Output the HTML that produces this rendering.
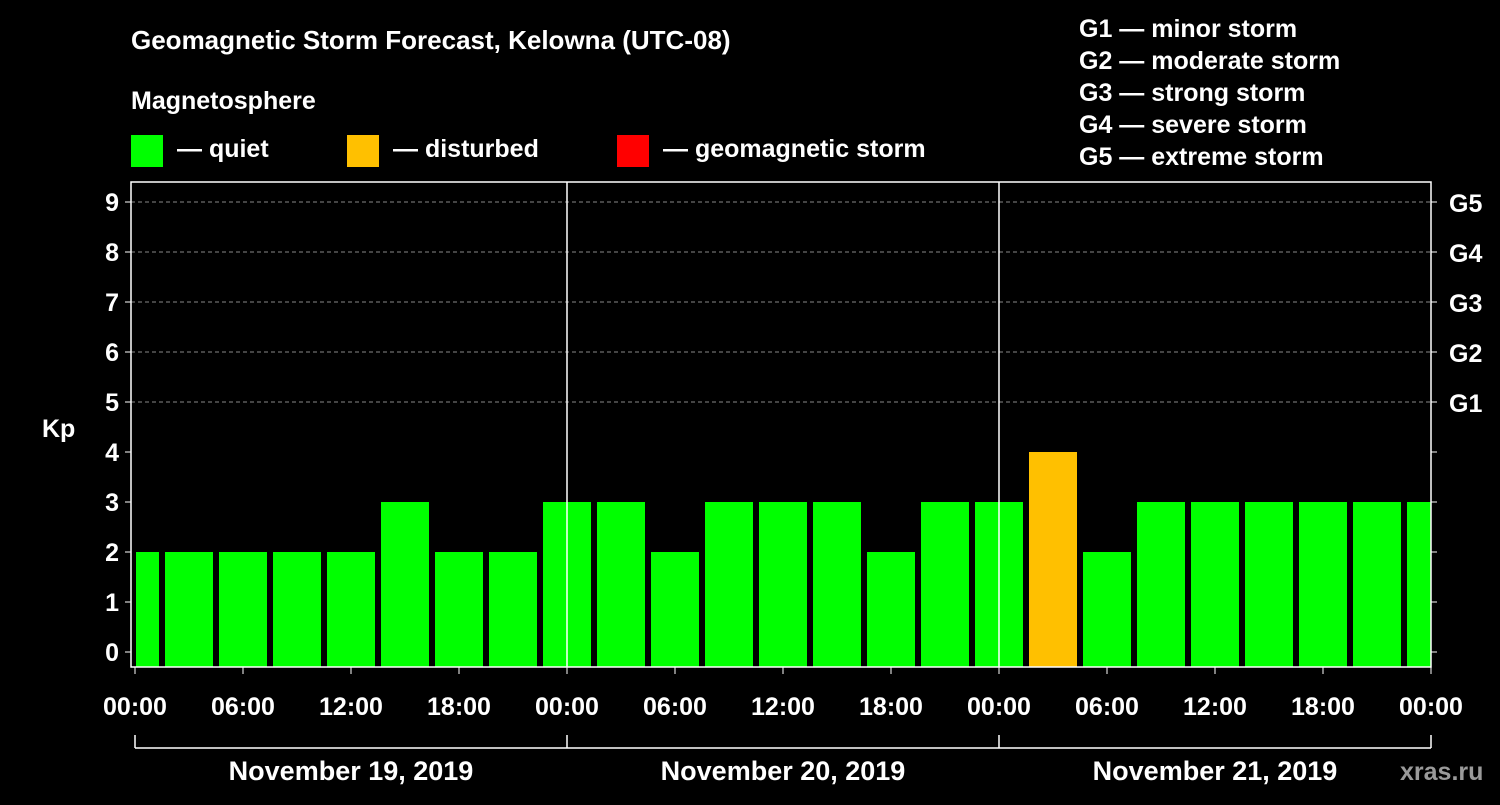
<!DOCTYPE html>
<html><head><meta charset="utf-8"><style>
body{margin:0;background:#000;}
svg text{font-family:"Liberation Sans",Arial,sans-serif;font-weight:bold;fill:#fff;}
</style></head><body>
<svg width="1500" height="800" xmlns="http://www.w3.org/2000/svg">
<rect width="1500" height="800" fill="#000"/>
<text x="131" y="49" font-size="26">Geomagnetic Storm Forecast, Kelowna (UTC-08)</text>
<text x="131" y="109" font-size="25">Magnetosphere</text>
<g>
<rect x="131" y="135" width="32" height="32" fill="#00ff00"/>
<text x="177" y="157" font-size="25">— quiet</text>
<rect x="347" y="135" width="32" height="32" fill="#ffc000"/>
<text x="393" y="157" font-size="25">— disturbed</text>
<rect x="617" y="135" width="32" height="32" fill="#ff0000"/>
<text x="663" y="157" font-size="25">— geomagnetic storm</text>
</g>
<g font-size="25">
<text x="1079" y="37">G1 — minor storm</text>
<text x="1079" y="69">G2 — moderate storm</text>
<text x="1079" y="101">G3 — strong storm</text>
<text x="1079" y="133">G4 — severe storm</text>
<text x="1079" y="165">G5 — extreme storm</text>
</g>
<g id="plot"></g>
<text x="1400" y="780" font-size="25" fill="#888" style="fill:#9a9a9a">xras.ru</text>
</svg>
<script>
const kpValues=[2,2,2,2,2,3,2,2,3,3,2,3,3,3,2,3,3,4,2,3,3,3,3,3,3];
const barStartHour=-1.5;
const yTicks=[0,1,2,3,4,5,6,7,8,9];
const gLabels=["G1","G2","G3","G4","G5"];
const xTickLabels=["00:00","06:00","12:00","18:00","00:00","06:00","12:00","18:00","00:00","06:00","12:00","18:00","00:00"];
const dayLabels=["November 19, 2019","November 20, 2019","November 21, 2019"];
const NS="http://www.w3.org/2000/svg";
const L=131,R=1431,T=182,B=667,X0=135,HPX=18;
const xs=h=>X0+h*HPX;
const ys=v=>652-v*50;
const g=document.getElementById('plot');
function mk(tag,a){const e=document.createElementNS(NS,tag);for(const k in a)e.setAttribute(k,a[k]);g.appendChild(e);return e;}
// grid
for(let v=5;v<=9;v++){const e=mk('line',{x1:L,x2:R,y1:ys(v),y2:ys(v),stroke:'#888','stroke-dasharray':'4,3','stroke-width':1});

}
// bars
kpValues.forEach((v,i)=>{let x1=xs(barStartHour+i*3)+3,x2=xs(barStartHour+(i+1)*3)-3;x1=Math.max(x1,L+5);x2=Math.min(x2,R);
const col=v>=5?'#ff0000':(v>=4?'#ffc000':'#00ff00');
const r=mk('rect',{x:x1,y:ys(v),width:x2-x1,height:B-ys(v),fill:col});

});
// frame
const fr=mk('rect',{x:L,y:T,width:R-L,height:B-T,fill:'none',stroke:'#fff','stroke-width':1.5});


[24,48].forEach(h=>{const e=mk('line',{x1:xs(h),x2:xs(h),y1:T,y2:B,stroke:'#fff','stroke-width':1.5});

});
// y ticks
yTicks.forEach(v=>{const y=ys(v);
mk('line',{x1:L-6,x2:L,y1:y,y2:y,stroke:'#fff'});mk('line',{x1:R,x2:R+6,y1:y,y2:y,stroke:'#fff'});
const t=mk('text',{x:L-12,y:y+9,'font-size':25,'text-anchor':'end'});t.textContent=v;

});
gLabels.forEach((s,i)=>{const t=mk('text',{x:R+18,y:ys(5+i)+10,'font-size':25});t.textContent=s;

});
const yt=mk('text',{x:42,y:437,'font-size':25});yt.textContent='Kp';


// x ticks
xTickLabels.forEach((s,i)=>{const x=xs(i*6);mk('line',{x1:x,x2:x,y1:B,y2:B+7,stroke:'#fff'});
const t=mk('text',{x:x,y:715,'font-size':25,'text-anchor':'middle'});t.textContent=s;

});
mk('line',{x1:xs(0),x2:xs(72),y1:748,y2:748,stroke:'#fff','stroke-width':1.5});
[0,24,48,72].forEach(h=>mk('line',{x1:xs(h),x2:xs(h),y1:735,y2:748,stroke:'#fff','stroke-width':1.5}));
dayLabels.forEach((s,i)=>{const t=mk('text',{x:xs(i*24+12),y:780,'font-size':27,'text-anchor':'middle'});t.textContent=s;

});
</script>
</body></html>
